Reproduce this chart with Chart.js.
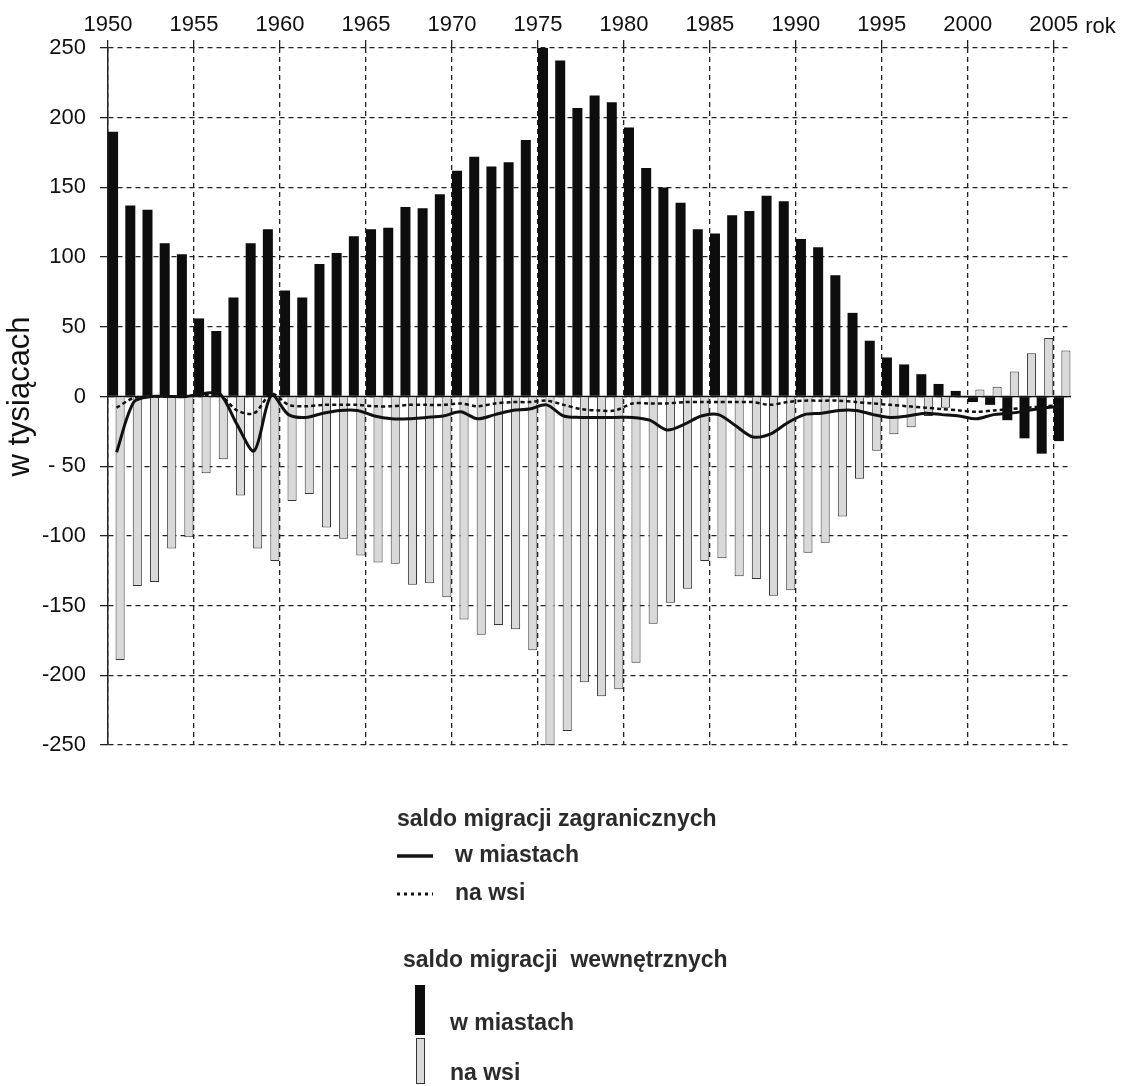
<!DOCTYPE html>
<html lang="pl">
<head>
    <meta charset="UTF-8">
    <title>Saldo migracji</title>
    <script src="https://cdn.jsdelivr.net/npm/chart.js"></script>
    <style>
        body {
            margin: 0;
            background-color: #ffffff;
        }
        #myChart {
            display: block;
        }
    </style>
</head>
<body>
    <canvas id="myChart" width="1135" height="1086"></canvas>
    <script>
        const years = [
            '1950', '1951', '1952', '1953', '1954', '1955', '1956', '1957', '1958', '1959',
            '1960', '1961', '1962', '1963', '1964', '1965', '1966', '1967', '1968', '1969',
            '1970', '1971', '1972', '1973', '1974', '1975', '1976', '1977', '1978', '1979',
            '1980', '1981', '1982', '1983', '1984', '1985', '1986', '1987', '1988', '1989',
            '1990', '1991', '1992', '1993', '1994', '1995', '1996', '1997', '1998', '1999',
            '2000', '2001', '2002', '2003', '2004', '2005'
        ];

        // saldo migracji wewnętrznych (tys.)
        const internalUrban = [
            190, 137, 134, 110, 102, 56, 47, 71, 110, 120,
            76, 71, 95, 103, 115, 120, 121, 136, 135, 145,
            162, 172, 165, 168, 184, 250, 241, 207, 216, 211,
            193, 164, 150, 139, 120, 117, 130, 133, 144, 140,
            113, 107, 87, 60, 40, 28, 23, 16, 9, 4,
            -4, -6, -17, -30, -41, -32
        ];
        const internalRural = [
            -189, -136, -133, -109, -101, -55, -45, -71, -109, -118,
            -75, -70, -94, -102, -114, -119, -120, -135, -134, -144,
            -160, -171, -164, -167, -182, -250, -240, -205, -215, -210,
            -191, -163, -148, -138, -118, -116, -129, -131, -143, -139,
            -112, -105, -86, -59, -39, -27, -22, -14, -8, -1,
            5, 7, 18, 31, 42, 33
        ];

        // saldo migracji zagranicznych (tys.)
        const foreignUrban = [
            -40, -4, 0, 0, 0, 2, 2, -20, -39, 1,
            -13, -15, -12, -10, -10, -14, -16, -16, -15, -14,
            -11, -16, -13, -10, -9, -6, -14, -15, -15, -15,
            -15, -17, -24, -20, -14, -13, -21, -29, -27, -19,
            -13, -12, -10, -10, -13, -15, -14, -12, -13, -14,
            -16, -13, -12, -10, -8, -7
        ];
        const foreignRural = [
            -8, -1, 0, 0, 0, 1, 1, -10, -12, 2,
            -6, -7, -6, -6, -6, -7, -7, -6, -6, -6,
            -5, -7, -5, -4, -4, -3, -6, -9, -10, -10,
            -5, -5, -5, -4, -4, -4, -4, -4, -6, -4,
            -3, -3, -3, -4, -5, -6, -7, -8, -9, -10,
            -11, -10, -9, -8, -7, -6
        ];

        const xTickYears = [1950, 1955, 1960, 1965, 1970, 1975, 1980, 1985, 1990, 1995, 2000, 2005];
        const yTickLabels = {
            '250': '250', '200': '200', '150': '150', '100': '100', '50': '50', '0': '0',
            '-50': '- 50', '-100': '-100', '-150': '-150', '-200': '-200', '-250': '-250'
        };

        const tickFont = { family: 'Liberation Sans, Arial, sans-serif', size: 22 };
        const legendFont = 'bold 23px "Liberation Sans", Arial, sans-serif';

        const extras = {
            id: 'extras',
            beforeDatasetsDraw(chart) {
                const { ctx, chartArea, scales } = chart;
                const y0 = scales.y.getPixelForValue(0);
                ctx.save();
                ctx.strokeStyle = '#111';
                ctx.lineWidth = 1.5;
                ctx.beginPath();
                ctx.moveTo(chartArea.left, y0);
                ctx.lineTo(chartArea.right, y0);
                ctx.stroke();
                ctx.restore();
            },
            afterDraw(chart) {
                const { ctx, scales } = chart;
                ctx.save();
                // "rok" after the last year label
                ctx.font = '22px "Liberation Sans", Arial, sans-serif';
                ctx.fillStyle = '#111';
                ctx.textBaseline = 'alphabetic';
                const x2005 = scales.x2.getPixelForValue(2005);
                ctx.fillText('rok', x2005 + ctx.measureText('2005').width / 2 + 7, 33);

                // legend
                ctx.font = legendFont;
                ctx.fillStyle = '#2b2b2b';
                ctx.fillText('saldo migracji zagranicznych', 397, 826);
                ctx.strokeStyle = '#111';
                ctx.lineWidth = 3.5;
                ctx.beginPath();
                ctx.moveTo(397, 856);
                ctx.lineTo(433, 856);
                ctx.stroke();
                ctx.fillText('w miastach', 455, 862);
                ctx.lineWidth = 3;
                ctx.setLineDash([3, 4]);
                ctx.beginPath();
                ctx.moveTo(397, 894);
                ctx.lineTo(433, 894);
                ctx.stroke();
                ctx.setLineDash([]);
                ctx.fillText('na wsi', 455, 900);

                ctx.fillText('saldo migracji  wewnętrznych', 403, 967);
                ctx.fillStyle = '#0d0d0d';
                ctx.fillRect(415, 985, 10, 50);
                ctx.fillStyle = '#2b2b2b';
                ctx.fillText('w miastach', 450, 1030);
                ctx.fillStyle = '#d9d9d9';
                ctx.fillRect(416, 1038, 8, 45);
                ctx.strokeStyle = '#333';
                ctx.lineWidth = 1;
                ctx.strokeRect(416.5, 1038.5, 8, 45);
                ctx.fillStyle = '#2b2b2b';
                ctx.fillText('na wsi', 450, 1080);
                ctx.restore();
            }
        };

        const ctx = document.getElementById('myChart').getContext('2d');
        const myChart = new Chart(ctx, {
            data: {
                labels: years,
                datasets: [
                    {
                        type: 'line',
                        label: 'saldo migracji zagranicznych - w miastach',
                        data: foreignUrban,
                        borderColor: '#111',
                        borderWidth: 3,
                        pointRadius: 0,
                        tension: 0.3,
                        xAxisID: 'x',
                        order: 0
                    },
                    {
                        type: 'line',
                        label: 'saldo migracji zagranicznych - na wsi',
                        data: foreignRural,
                        borderColor: '#111',
                        borderWidth: 2.5,
                        borderDash: [4, 3],
                        pointRadius: 0,
                        tension: 0.3,
                        xAxisID: 'x',
                        order: 0
                    },
                    {
                        type: 'bar',
                        label: 'saldo migracji wewnętrznych - w miastach',
                        data: internalUrban,
                        backgroundColor: '#0d0d0d',
                        borderWidth: 0,
                        categoryPercentage: 0.814,
                        barPercentage: 1.43,
                        xAxisID: 'x',
                        order: 1
                    },
                    {
                        type: 'bar',
                        label: 'saldo migracji wewnętrznych - na wsi',
                        data: internalRural,
                        backgroundColor: '#d9d9d9',
                        borderColor: '#333',
                        borderWidth: 1,
                        categoryPercentage: 0.814,
                        barPercentage: 1.3,
                        xAxisID: 'x',
                        order: 1
                    }
                ]
            },
            options: {
                responsive: false,
                animation: false,
                devicePixelRatio: 1,
                layout: {
                    padding: { left: 0, right: 64, top: 0, bottom: 341 }
                },
                plugins: {
                    legend: { display: false },
                    tooltip: { enabled: false }
                },
                scales: {
                    x: {
                        type: 'category',
                        display: false,
                        offset: true
                    },
                    x2: {
                        type: 'linear',
                        position: 'top',
                        min: 1950,
                        max: 2006,
                        afterBuildTicks: function (scale) {
                            scale.ticks = xTickYears.map(v => ({ value: v }));
                        },
                        afterFit: function (scale) {
                            scale.height = 48;
                        },
                        ticks: {
                            font: tickFont,
                            color: '#111',
                            padding: 2,
                            maxRotation: 0,
                            autoSkip: false,
                            callback: function (value) {
                                return String(value);
                            }
                        },
                        grid: {
                            color: '#222',
                            lineWidth: 1.3,
                            tickLength: 8,
                            tickColor: '#222',
                            tickWidth: 1.3
                        },
                        border: {
                            display: false,
                            dash: [5, 4]
                        }
                    },
                    y: {
                        min: -250,
                        max: 250,
                        afterFit: function (scale) {
                            scale.width = 108;
                        },
                        ticks: {
                            stepSize: 50,
                            font: tickFont,
                            color: '#111',
                            padding: 14,
                            callback: function (value) {
                                return yTickLabels[String(value)];
                            }
                        },
                        grid: {
                            color: '#222',
                            lineWidth: 1.3,
                            tickLength: 8,
                            tickColor: '#222',
                            tickWidth: 1.3
                        },
                        border: {
                            display: true,
                            color: '#222',
                            width: 1.5,
                            dash: [5, 4]
                        },
                        title: {
                            display: true,
                            text: 'w tysiącach',
                            font: { family: 'Liberation Sans, Arial, sans-serif', size: 31 },
                            color: '#111',
                            padding: { top: 2, bottom: 0 }
                        }
                    }
                }
            },
            plugins: [extras]
        });
    </script>
</body>
</html>
